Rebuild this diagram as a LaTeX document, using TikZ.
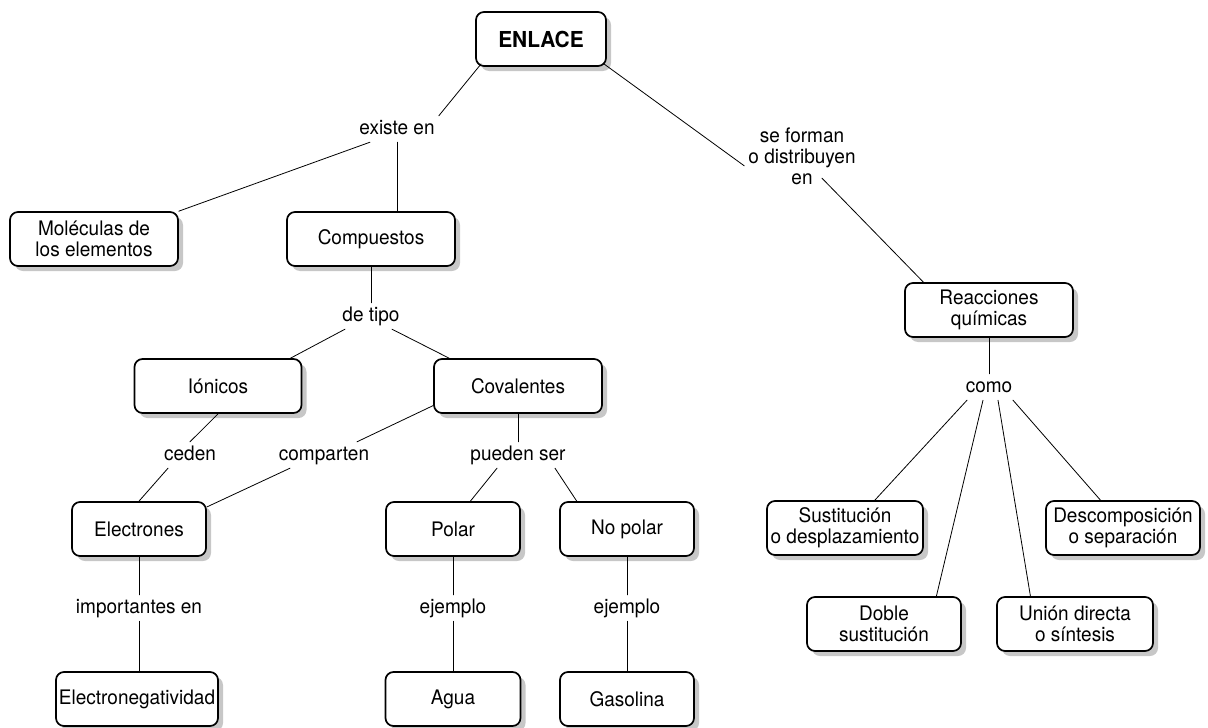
\documentclass[tikz,border=0pt]{standalone}
\usepackage{fontspec}
\setmainfont[FakeStretch=0.95]{TeX Gyre Heros}
\usetikzlibrary{shadows}

\begin{document}
\begin{tikzpicture}[x=1pt,y=-1pt,line cap=round,line join=round,
  concepto/.style={draw,line width=1.7pt,rounded corners=8pt,fill=white,
    minimum height=54,align=center,inner sep=2pt,
    font=\fontsize{20}{21}\selectfont,
    drop shadow={shadow xshift=5pt,shadow yshift=-5pt,fill=black!22,opacity=1}},
  palabra/.style={align=center,inner sep=4pt,text height=14pt,text depth=4pt,
    font=\fontsize{20}{21}\selectfont},
  linea/.style={line width=0.8pt}]
\useasboundingbox (0,0) rectangle (1208,728);

%raiz
\node[concepto,minimum width=130,font=\bfseries\fontsize{22}{24}\selectfont] (enlace) at (541,39) {ENLACE};

%rama izquierda
\node[palabra] (existe) at (397,129) {existe en};
\node[concepto,minimum width=168] (moleculas) at (94,239) {Moléculas de\\los elementos};
\node[concepto,minimum width=168] (compuestos) at (371,239) {Compuestos};
\node[palabra] (tipo) at (371,316) {de tipo};
\node[concepto,minimum width=167] (ionicos) at (218,386) {Iónicos};
\node[concepto,minimum width=168] (covalentes) at (518,386) {Covalentes};
\node[palabra] (ceden) at (190,455) {ceden};
\node[palabra] (comparten) at (324,455) {comparten};
\node[palabra] (pueden) at (518,455) {pueden ser};
\node[concepto,minimum width=134] (electrones) at (139,529) {Electrones};
\node[concepto,minimum width=134] (polar) at (453,529) {Polar};
\node[concepto,minimum width=134] (nopolar) at (627,529) {No polar};
\node[palabra] (importantes) at (139,608) {importantes en};
\node[palabra] (ejemploA) at (453,608) {ejemplo};
\node[palabra] (ejemploB) at (627,608) {ejemplo};
\node[concepto,minimum width=162] (electroneg) at (137,699) {Electronegatividad};
\node[concepto,minimum width=135] (agua) at (453,699) {Agua};
\node[concepto,minimum width=134] (gasolina) at (627,699) {Gasolina};

%rama derecha
\node[palabra] (forman) at (802,179) {se forman\\o distribuyen\\en};
\node[concepto,minimum width=168] (reacciones) at (989,310) {Reacciones\\químicas};
\node[palabra] (como) at (989,387) {como};
\node[concepto,minimum width=156] (sustitucion) at (845,528) {Sustitución\\o desplazamiento};
\node[concepto,minimum width=154] (descomposicion) at (1123,528) {Descomposición\\o separación};
\node[concepto,minimum width=154] (doble) at (884,624) {Doble\\sustitución};
\node[concepto,minimum width=156] (union) at (1075,624) {Unión directa\\o síntesis};

%lineas
\draw[linea] ([xshift=6pt,yshift=3pt]enlace.south west) -- (existe.north east);
\draw[linea] ([xshift=-27pt]existe.south) -- (moleculas.north east);
\draw[linea] (existe.south) -- (existe.south |- compuestos.north);
\draw[linea] (compuestos) -- (tipo);
\draw[linea] ([xshift=-26pt]tipo.south) -- (ionicos.21);
\draw[linea] ([xshift=21pt]tipo.south) -- (covalentes.158);
\draw[linea] (ionicos.south) -- (ceden.north);
\draw[linea] ([xshift=-22pt]ceden.south) -- (electrones.north);
\draw[linea] (covalentes.193) -- ([xshift=33pt]comparten.north);
\draw[linea] ([xshift=-34pt]comparten.south) -- (electrones.18);
\draw[linea] (covalentes) -- (pueden);
\draw[linea] ([xshift=-21pt]pueden.south) -- (polar.58);
\draw[linea] ([xshift=37pt]pueden.south) -- (nopolar.151);
\draw[linea] (electrones) -- (importantes);
\draw[linea] (importantes) -- (importantes |- electroneg.north);
\draw[linea] (polar) -- (ejemploA);
\draw[linea] (ejemploA) -- (agua);
\draw[linea] (nopolar) -- (ejemploB);
\draw[linea] (ejemploB) -- (gasolina);

\draw[linea] ([xshift=-3pt,yshift=3pt]enlace.south east) -- (forman.north west);
\draw[linea] ([xshift=20pt,yshift=14pt]forman.south) -- (reacciones.157);
\draw[linea] (reacciones) -- (como);
\draw[linea] ([xshift=-22pt]como.south) -- (sustitucion.43);
\draw[linea] ([xshift=-6pt]como.south) -- (doble.28);
\draw[linea] ([xshift=9pt]como.south) -- (union.148);
\draw[linea] ([xshift=24pt]como.south) -- (descomposicion.129);
\end{tikzpicture}
\end{document}
